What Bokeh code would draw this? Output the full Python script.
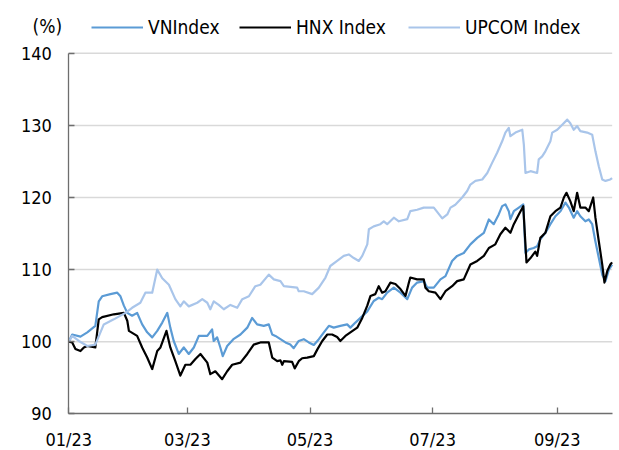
import pandas as pd
from bokeh.plotting import figure
from bokeh.models import (ColumnDataSource, FixedTicker, DatetimeTickFormatter,
                          Legend, LegendItem, Label, Range1d)
from bokeh.embed import file_html
from bokeh.resources import INLINE

# ---------------- data ----------------
BASE_DATE = "2023-01-01"
AXIS_START, AXIS_END = "2023-01-01", "2023-09-28 08:00"
x_tick_dates = ["2023-01-01", "2023-03-01", "2023-05-01", "2023-07-01", "2023-09-01"]
y_ticks = [90, 100, 110, 120, 130, 140]
series_names = ["VNIndex", "HNX Index", "UPCOM Index"]
unit_label = "(%)"

# day offsets from BASE_DATE and index values (base = 100)
vn_day = [0, 1.7, 5.8, 9.2, 13.2, 14.9, 16.6, 20.7, 24.1, 25.7,
          27.4, 29.1, 31.5, 34.0, 36.5, 39.0, 41.5, 44.0, 46.5, 49.0,
          50.5, 52.2, 54.7, 57.2, 59.7, 62.2, 64.7, 68.9, 71.3, 72.1,
          73.8, 75.4, 76.6, 78.8, 82.1, 85.4, 88.8, 91.2, 93.7, 97.0,
          99.5, 101.2, 102.8, 105.3, 107.8, 110.2, 111.9, 114.4, 116.9, 119.4,
          121.9, 124.4, 126.9, 129.4, 131.8, 135.1, 138.5, 140.1, 142.6, 145.1,
          148.5, 151.7, 154.2, 155.9, 158.4, 161.7, 165.0, 168.4, 170.8, 173.3,
          176.6, 178.3, 181.6, 184.9, 187.4, 190.7, 193.2, 196.5, 199.8, 203.2,
          206.5, 209.0, 211.4, 213.9, 215.6, 217.2, 218.9, 219.7, 221.4, 223.9,
          226.1, 227.2, 228.9, 231.3, 233.0, 234.6, 237.1, 239.6, 242.1, 244.6,
          247.1, 248.8, 251.2, 252.9, 254.5, 257.0, 258.7, 260.4, 262.0, 263.7,
          265.4, 267.0, 268.7, 270.3]
vn_val = [100, 101.0, 100.7, 101.3, 102.2, 105.6, 106.3, 106.6, 106.8, 106.3,
          105.0, 104.0, 103.6, 104.0, 102.4, 101.3, 100.6, 101.5, 102.65, 104.0,
          101.95, 100.1, 98.3, 99.2, 98.3, 99.2, 100.8, 100.8, 101.7, 100.1,
          100.6, 99.2, 98.0, 99.4, 100.4, 101.0, 101.95, 103.3, 102.4, 102.2,
          102.4, 101.0, 100.8, 100.35, 99.9, 99.6, 99.1, 100.1, 100.35, 99.9,
          99.55, 100.35, 101.3, 102.2, 101.95, 102.2, 102.4, 101.95, 102.65, 103.3,
          104.2, 105.65, 106.1, 105.9, 106.8, 107.5, 106.8, 105.9, 107.5, 108.2,
          108.4, 107.5, 107.5, 108.65, 109.1, 111.2, 111.9, 112.3, 113.5, 114.4,
          115.1, 116.95, 116.3, 117.65, 118.8, 119.05, 118.1, 117.0, 118.1, 118.6,
          119.05, 112.3, 112.8, 113.0, 113.25, 114.2, 115.1, 116.3, 117.4, 118.1,
          119.3, 118.6, 117.2, 118.1, 117.4, 116.7, 116.95, 116.3, 113.9, 111.6,
          109.3, 108.4, 110.0, 110.7]

hnx_day = [0, 1.7, 3.3, 5.8, 7.5, 9.2, 13.2, 14.9, 16.6, 22.4,
           27.4, 29.1, 29.9, 34.0, 36.5, 39.0, 41.5, 44.0, 45.6, 48.6,
           50.5, 53.0, 55.5, 58.0, 60.5, 63.0, 65.5, 68.9, 70.4, 72.9,
           76.3, 78.8, 81.3, 85.4, 88.8, 92.0, 95.3, 99.5, 101.2, 103.7,
           105.3, 106.2, 107.0, 111.1, 112.4, 114.4, 116.1, 118.6, 121.9, 123.6,
           126.1, 128.6, 131.0, 133.5, 135.1, 137.6, 140.1, 143.5, 146.0, 148.5,
           150.1, 152.5, 154.2, 155.9, 157.5, 160.0, 162.5, 165.0, 167.5, 169.2,
           169.9, 173.3, 176.6, 177.4, 179.1, 182.4, 184.9, 187.4, 190.7, 193.2,
           196.5, 199.8, 203.2, 206.5, 209.0, 212.2, 214.7, 217.2, 219.7, 221.4,
           223.9, 226.1, 227.7, 229.7, 232.1, 233.0, 234.6, 237.1, 239.6, 242.1,
           244.6, 246.3, 247.6, 249.5, 251.2, 252.9, 254.5, 257.0, 258.7, 260.9,
           262.0, 263.7, 265.4, 266.5, 267.9, 269.4, 270.3]
hnx_val = [100, 99.9, 99.0, 98.7, 99.2, 99.4, 99.2, 103.1, 103.4, 103.8,
           104.0, 102.9, 101.5, 100.8, 99.2, 97.8, 96.2, 98.7, 99.2, 101.5,
           99.2, 97.3, 95.3, 96.8, 96.8, 97.6, 98.3, 97.1, 95.5, 95.9,
           94.8, 95.9, 96.8, 97.1, 98.3, 99.6, 99.9, 99.9, 97.8, 97.3,
           97.4, 96.8, 97.3, 97.2, 96.3, 97.3, 97.7, 97.8, 98.0, 98.9,
           100.1, 101.0, 101.0, 100.65, 100.1, 100.8, 101.3, 101.95, 103.3, 105.0,
           106.35, 106.6, 107.7, 106.8, 107.0, 108.2, 108.0, 107.3, 106.35, 108.2,
           108.9, 108.65, 108.65, 107.5, 107.0, 106.8, 105.9, 107.0, 107.7, 108.4,
           108.65, 110.7, 111.2, 111.9, 113.0, 113.5, 114.9, 115.8, 115.1, 116.3,
           117.65, 118.8, 111.0, 111.6, 112.5, 111.9, 114.4, 115.1, 117.4, 118.1,
           118.6, 120.0, 120.65, 119.5, 118.1, 120.65, 118.6, 118.6, 118.1, 120.0,
           117.2, 113.9, 110.7, 108.2, 109.8, 110.7, 111.0]

upcom_day = [0, 1.7, 5.0, 9.2, 13.2, 17.4, 22.4, 28.2, 31.5, 35.6,
             38.1, 41.5, 44.0, 46.5, 49.8, 53.0, 55.5, 57.2, 59.7, 63.9,
             66.4, 68.9, 70.4, 72.1, 74.6, 77.1, 80.4, 83.8, 86.3, 89.6,
             92.8, 95.3, 99.5, 102.0, 105.3, 107.0, 110.2, 113.6, 114.4, 116.9,
             121.1, 124.4, 127.7, 130.1, 133.5, 136.8, 139.3, 141.8, 144.3, 146.0,
             148.5, 149.3, 151.7, 155.0, 156.7, 158.4, 161.7, 164.2, 168.4, 169.9,
             173.3, 176.6, 181.6, 185.8, 188.3, 189.9, 192.3, 195.7, 198.2, 199.8,
             202.3, 205.7, 208.2, 210.6, 213.1, 215.6, 217.2, 218.9, 219.7, 222.2,
             225.6, 226.4, 227.2, 229.7, 233.0, 233.8, 235.5, 237.1, 239.6, 240.5,
             243.0, 245.5, 248.0, 249.5, 251.2, 252.9, 254.5, 257.9, 260.4, 262.0,
             263.7, 265.4, 267.0, 269.4, 270.3]
upcom_val = [100, 100.8, 100.1, 99.4, 99.6, 102.4, 103.1, 104.0, 104.7, 105.4,
             106.8, 106.8, 110.0, 108.8, 107.9, 105.9, 104.9, 105.6, 104.9, 105.4,
             105.9, 105.4, 104.5, 105.6, 105.1, 104.5, 105.1, 104.7, 105.9, 106.3,
             107.7, 107.9, 109.3, 108.65, 108.4, 107.7, 107.6, 107.5, 107.0, 107.0,
             106.6, 107.5, 108.9, 110.5, 111.2, 111.9, 112.1, 111.6, 111.2, 111.9,
             113.5, 115.6, 116.0, 116.3, 116.7, 116.3, 117.2, 116.7, 117.0, 118.1,
             118.3, 118.6, 118.6, 117.1, 117.65, 118.6, 119.0, 120.0, 120.9, 121.8,
             122.3, 122.5, 123.4, 124.8, 126.2, 127.8, 129.0, 129.65, 128.5, 129.0,
             129.4, 127.3, 123.4, 123.65, 123.4, 125.3, 125.7, 126.4, 127.8, 129.0,
             129.4, 130.1, 130.8, 130.3, 129.4, 129.9, 129.2, 129.0, 128.7, 126.4,
             124.3, 122.5, 122.3, 122.5, 122.7]

# ---------------- styles / layout ----------------
FONT = "DejaVu Sans Condensed"
TICK_FS = "18px"
LEG_FS = "19px"
colors = ["#5B9BD5", "#000000", "#A9C5EA"]
AXIS_COLOR = "#6E6E6E"
W, H = 619, 450
PLOT_LEFT_PX, PLOT_BOTTOM_PX = 68.3, 36.7     # where the axes cross, from canvas left / bottom
PX_PER_DAY, PX_PER_UNIT = 2.01, 7.21


def to_dates(days):
    return pd.Timestamp(BASE_DATE) + pd.to_timedelta(days, unit="D")


def ms(d):
    return pd.Timestamp(d).value // 10**6


t0 = pd.Timestamp(AXIS_START)
x_rng = Range1d(t0 - pd.Timedelta(days=PLOT_LEFT_PX / PX_PER_DAY),
                t0 + pd.Timedelta(days=(W - PLOT_LEFT_PX) / PX_PER_DAY))
y_lo = y_ticks[0] - PLOT_BOTTOM_PX / PX_PER_UNIT
y_rng = Range1d(y_lo, y_lo + H / PX_PER_UNIT)

p = figure(width=W, height=H, x_axis_type="datetime",
           x_range=x_rng, y_range=y_rng,
           output_backend="svg", toolbar_location=None,
           min_border=0, min_border_left=0, min_border_right=0,
           min_border_top=0, min_border_bottom=0)
p.outline_line_color = None
p.xgrid.visible = False
p.ygrid.visible = False

# horizontal gridlines spanning the axis extent only
grid_src = ColumnDataSource(dict(x0=[t0] * (len(y_ticks) - 1),
                                 x1=[pd.Timestamp(AXIS_END)] * (len(y_ticks) - 1),
                                 y=y_ticks[1:]))
p.segment(x0="x0", y0="y", x1="x1", y1="y", source=grid_src,
          line_color="#D9D9D9", line_width=1.5)

renderers = []
for name, days, vals, col in zip(series_names,
                                 [vn_day, hnx_day, upcom_day],
                                 [vn_val, hnx_val, upcom_val], colors):
    src = ColumnDataSource(dict(x=to_dates(days), y=vals))
    r = p.line("x", "y", source=src, line_color=col, line_width=2.2,
               line_join="round")
    renderers.append(r)

# axes drawn inside the canvas at fixed data locations
p.yaxis.fixed_location = ms(AXIS_START)
p.yaxis.bounds = (y_ticks[0], y_ticks[-1])
p.yaxis.ticker = FixedTicker(ticks=y_ticks)
p.xaxis.fixed_location = y_ticks[0]
p.xaxis.bounds = (ms(AXIS_START), ms(AXIS_END))
p.xaxis.ticker = FixedTicker(ticks=[ms(d) for d in x_tick_dates])
fmt = "%m/%y"
p.xaxis.formatter = DatetimeTickFormatter(milliseconds=fmt, seconds=fmt, minsec=fmt,
                                          minutes=fmt, hourmin=fmt, hours=fmt,
                                          days=fmt, months=fmt, years=fmt)
for ax in (p.xaxis[0], p.yaxis[0]):
    ax.axis_line_color = AXIS_COLOR
    ax.axis_line_width = 1.3
    ax.major_tick_line_color = AXIS_COLOR
    ax.major_tick_line_width = 1.3
    ax.major_tick_in = 6
    ax.major_tick_out = 0
    ax.minor_tick_line_color = None
    ax.major_label_text_font = FONT
    ax.major_label_text_font_size = TICK_FS
    ax.major_label_text_color = "#000000"
p.yaxis.major_label_standoff = 17
p.xaxis.major_label_standoff = 15

# legend: one entry per series in a row above the plot
legend_x = [91, 239, 408]
for name, r, lx in zip(series_names, renderers, legend_x):
    leg = Legend(items=[LegendItem(label=name, renderers=[r])],
                 location=(lx, 412), orientation="horizontal",
                 glyph_width=52, glyph_height=20, label_height=20,
                 label_standoff=5, padding=0, margin=0, spacing=0,
                 border_line_color=None, background_fill_alpha=0,
                 label_text_font=FONT, label_text_font_size=LEG_FS,
                 label_text_color="#000000")
    p.add_layout(leg)

p.add_layout(Label(x=32, y=425, x_units="screen", y_units="screen",
                   text=unit_label, text_baseline="middle", text_align="left",
                   text_font=FONT, text_font_size=LEG_FS, text_color="#000000"))

open("out.html", "w").write(file_html(p, INLINE))
